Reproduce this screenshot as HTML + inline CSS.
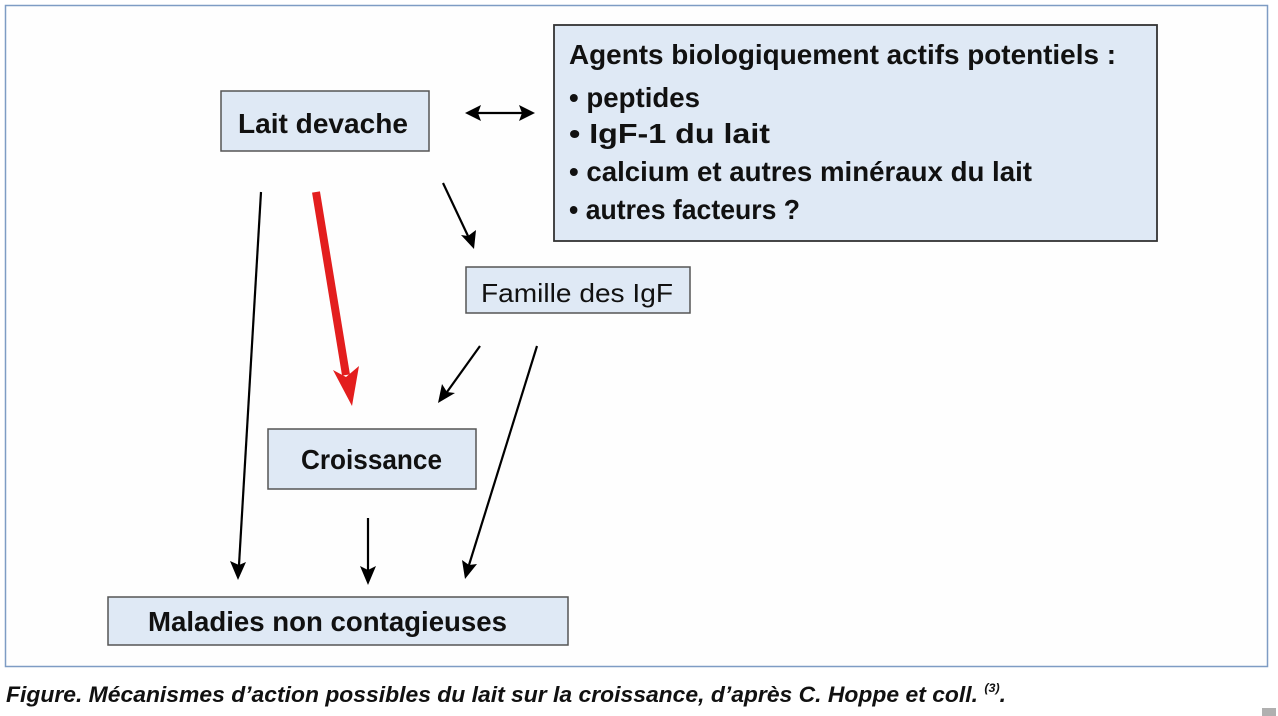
<!DOCTYPE html>
<html><head><meta charset="utf-8"><style>
html,body{margin:0;padding:0;background:#fff;}
svg{display:block;}
text{font-family:"Liberation Sans",sans-serif;fill:#111;}
</style></head><body>
<svg width="1278" height="716" viewBox="0 0 1278 716" xmlns="http://www.w3.org/2000/svg">
<rect x="5.5" y="5.5" width="1262" height="661" fill="#fefefe" stroke="#7e9cc4" stroke-width="1.5"/>
<rect x="221" y="91" width="208" height="60" fill="#dfe9f5" stroke="#555" stroke-width="1.5"/>
<text x="238" y="133" font-size="28" font-weight="bold" textLength="170" lengthAdjust="spacingAndGlyphs">Lait devache</text>
<rect x="554" y="25" width="603" height="216" fill="#dfe9f5" stroke="#333" stroke-width="1.8"/>
<g font-size="28" font-weight="bold">
<text x="569" y="64" textLength="547" lengthAdjust="spacingAndGlyphs">Agents biologiquement actifs potentiels :</text>
<text x="569" y="107" textLength="131" lengthAdjust="spacingAndGlyphs">• peptides</text>
<text x="569" y="143" textLength="201" lengthAdjust="spacingAndGlyphs">• IgF-1 du lait</text>
<text x="569" y="181" textLength="463" lengthAdjust="spacingAndGlyphs">• calcium et autres minéraux du lait</text>
<text x="569" y="219" textLength="231" lengthAdjust="spacingAndGlyphs">• autres facteurs ?</text>
</g>
<rect x="466" y="267" width="224" height="46" fill="#dfe9f5" stroke="#555" stroke-width="1.5"/>
<text x="481" y="302" font-size="26" textLength="192" lengthAdjust="spacingAndGlyphs">Famille des IgF</text>
<rect x="268" y="429" width="208" height="60" fill="#dfe9f5" stroke="#555" stroke-width="1.5"/>
<text x="301" y="469" font-size="28" font-weight="bold" textLength="141" lengthAdjust="spacingAndGlyphs">Croissance</text>
<rect x="108" y="597" width="460" height="48" fill="#dfe9f5" stroke="#555" stroke-width="1.5"/>
<text x="148" y="631" font-size="28" font-weight="bold" textLength="359" lengthAdjust="spacingAndGlyphs">Maladies non contagieuses</text>
<g stroke="#000" stroke-width="2.2" fill="none">
<line x1="478" y1="113" x2="522" y2="113"/>
<line x1="443" y1="183" x2="468" y2="236"/>
<line x1="261" y1="192" x2="239" y2="565"/>
<line x1="480" y1="346" x2="447" y2="392"/>
<line x1="537" y1="346" x2="469" y2="565"/>
<line x1="368" y1="518" x2="368" y2="570"/>
</g>
<g fill="#000">
<polygon points="465,113 481,105 478,113 481,121"/>
<polygon points="535,113 519,105 522,113 519,121"/>
<polygon points="474,249 461,235 468,236 476,230"/>
<polygon points="238,580 230,561 239,565 246,562"/>
<polygon points="438,403 442,384 447,392 455,393"/>
<polygon points="465,579 462,560 469,565 477,564"/>
<polygon points="368,585 360,566 368,570 376,566"/>
</g>
<line x1="316" y1="192" x2="346" y2="375" stroke="#e31e1e" stroke-width="8"/>
<polygon points="352,406 333,370 346,377 359,366" fill="#e31e1e"/>
<text x="6" y="702" font-size="22" font-weight="bold" font-style="italic" textLength="1000" lengthAdjust="spacingAndGlyphs">Figure. Mécanismes d’action possibles du lait sur la croissance, d’après C. Hoppe et coll. <tspan font-size="12" dy="-10">(3)</tspan><tspan dy="10">.</tspan></text>
<rect x="1262" y="708" width="14" height="8" fill="#b0b0b0"/>
</svg>
</body></html>
